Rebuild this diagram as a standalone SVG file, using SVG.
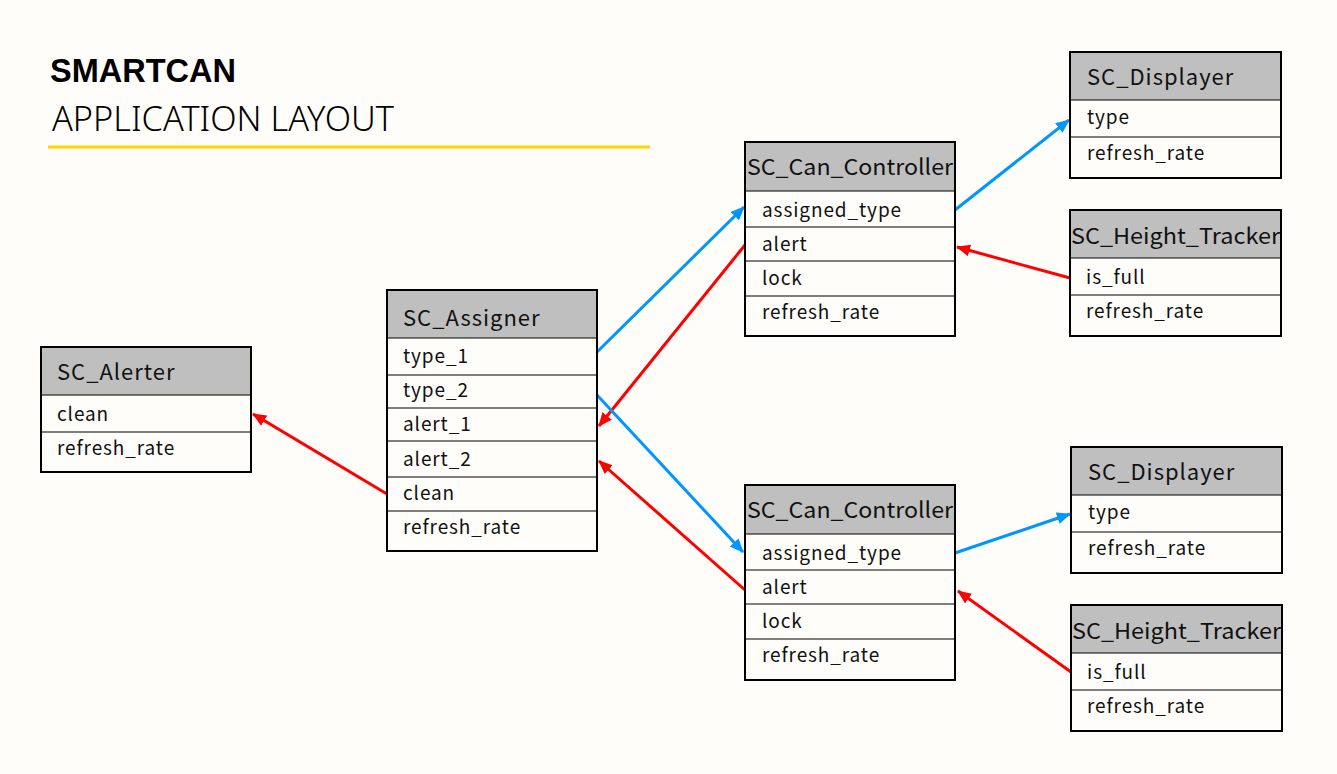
<svg xmlns="http://www.w3.org/2000/svg" width="1337" height="774" viewBox="0 0 1337 774">
<defs>
<style>
.bg{fill:#FEFDF9}
.box{fill:#FEFDF9;stroke:#000;stroke-width:2}
.hd{fill:#BFBFBF}
.sep{stroke:#000;stroke-width:1.2}
.t{font-family:"Noto Sans CJK JP","Noto Sans",sans-serif;font-size:19px;letter-spacing:0.9px;fill:#111}
.h{font-family:"Noto Sans CJK JP","Noto Sans",sans-serif;font-size:22px;letter-spacing:1px;fill:#111}
.blue{stroke:#0096FF;stroke-width:3;fill:none;marker-end:url(#ab)}
.red{stroke:#FF0000;stroke-width:3;fill:none;marker-end:url(#ar)}
</style>
<marker id="ab" viewBox="0 0 14 12" refX="13" refY="6" markerWidth="14" markerHeight="12" markerUnits="userSpaceOnUse" orient="auto"><path d="M0,0 L14,6 L0,12 Z" fill="#0096FF"/></marker>
<marker id="ar" viewBox="0 0 14 12" refX="13" refY="6" markerWidth="14" markerHeight="12" markerUnits="userSpaceOnUse" orient="auto"><path d="M0,0 L14,6 L0,12 Z" fill="#FF0000"/></marker>
</defs>
<rect class="bg" x="0" y="0" width="1337" height="774"/>
<g id="title">
<text x="50" y="82" font-family="Liberation Sans, sans-serif" font-weight="bold" font-size="34" textLength="186" lengthAdjust="spacingAndGlyphs" fill="#000">SMARTCAN</text>
<text x="52" y="131" font-family="Noto Sans, sans-serif" font-weight="300" font-size="35" textLength="342" lengthAdjust="spacingAndGlyphs" fill="#000">APPLICATION LAYOUT</text>
<line x1="48" y1="147" x2="650" y2="147" stroke="#FFD700" stroke-width="3"/>
</g>
<g id="connectors">
<line class="blue" x1="597" y1="352" x2="744" y2="207"/>
<line class="red" x1="745" y1="245" x2="599" y2="426"/>
<line class="blue" x1="597" y1="395" x2="743" y2="552"/>
<line class="red" x1="745" y1="590" x2="599" y2="461"/>
<line class="red" x1="387" y1="494" x2="253" y2="414"/>
<line class="blue" x1="955" y1="210" x2="1069" y2="120"/>
<line class="red" x1="1070" y1="278" x2="957" y2="247"/>
<line class="blue" x1="955" y1="553" x2="1070" y2="514"/>
<line class="red" x1="1071" y1="672" x2="958" y2="591"/>
</g>
<g id="alerter">
<rect class="box" x="41" y="347" width="210" height="125"/>
<rect class="hd" x="42" y="348" width="208" height="47"/>
<line class="sep" x1="41" y1="395" x2="251" y2="395"/>
<line class="sep" x1="41" y1="432" x2="251" y2="432"/>
<text class="h" x="57" y="380">SC_Alerter</text>
<text class="t" x="57" y="421">clean</text>
<text class="t" x="57" y="455">refresh_rate</text>
</g>
<g id="assigner">
<rect class="box" x="387" y="290" width="210" height="261"/>
<rect class="hd" x="388" y="291" width="208" height="47"/>
<line class="sep" x1="387" y1="338" x2="597" y2="338"/>
<line class="sep" x1="387" y1="375" x2="597" y2="375"/>
<line class="sep" x1="387" y1="408" x2="597" y2="408"/>
<line class="sep" x1="387" y1="441" x2="597" y2="441"/>
<line class="sep" x1="387" y1="477" x2="597" y2="477"/>
<line class="sep" x1="387" y1="511" x2="597" y2="511"/>
<text class="h" x="403" y="326">SC_Assigner</text>
<text class="t" x="403" y="363">type_1</text>
<text class="t" x="403" y="397">type_2</text>
<text class="t" x="403" y="431">alert_1</text>
<text class="t" x="403" y="466">alert_2</text>
<text class="t" x="403" y="500">clean</text>
<text class="t" x="403" y="534">refresh_rate</text>
</g>
<g id="controller1">
<rect class="box" x="745" y="142" width="210" height="194"/>
<rect class="hd" x="746" y="143" width="208" height="48"/>
<line class="sep" x1="745" y1="191" x2="955" y2="191"/>
<line class="sep" x1="745" y1="227" x2="955" y2="227"/>
<line class="sep" x1="745" y1="261" x2="955" y2="261"/>
<line class="sep" x1="745" y1="296" x2="955" y2="296"/>
<text class="h" x="747" y="175" style="letter-spacing:0" textLength="206" lengthAdjust="spacingAndGlyphs">SC_Can_Controller</text>
<text class="t" x="762" y="217">assigned_type</text>
<text class="t" x="762" y="251">alert</text>
<text class="t" x="762" y="285">lock</text>
<text class="t" x="762" y="319">refresh_rate</text>
</g>
<g id="controller2">
<rect class="box" x="745" y="485" width="210" height="195"/>
<rect class="hd" x="746" y="486" width="208" height="48"/>
<line class="sep" x1="745" y1="534" x2="955" y2="534"/>
<line class="sep" x1="745" y1="570" x2="955" y2="570"/>
<line class="sep" x1="745" y1="604" x2="955" y2="604"/>
<line class="sep" x1="745" y1="639" x2="955" y2="639"/>
<text class="h" x="747" y="518" style="letter-spacing:0" textLength="206" lengthAdjust="spacingAndGlyphs">SC_Can_Controller</text>
<text class="t" x="762" y="560">assigned_type</text>
<text class="t" x="762" y="594">alert</text>
<text class="t" x="762" y="628">lock</text>
<text class="t" x="762" y="662">refresh_rate</text>
</g>
<g id="displayer1">
<rect class="box" x="1070" y="52" width="211" height="126"/>
<rect class="hd" x="1071" y="53" width="209" height="47"/>
<line class="sep" x1="1070" y1="100" x2="1281" y2="100"/>
<line class="sep" x1="1070" y1="137" x2="1281" y2="137"/>
<text class="h" x="1087" y="85">SC_Displayer</text>
<text class="t" x="1087" y="124">type</text>
<text class="t" x="1087" y="160">refresh_rate</text>
</g>
<g id="tracker1">
<rect class="box" x="1070" y="210" width="211" height="126"/>
<rect class="hd" x="1071" y="211" width="209" height="47"/>
<line class="sep" x1="1070" y1="258" x2="1281" y2="258"/>
<line class="sep" x1="1070" y1="295" x2="1281" y2="295"/>
<text class="h" x="1071" y="244" style="letter-spacing:0" textLength="209" lengthAdjust="spacingAndGlyphs">SC_Height_Tracker</text>
<text class="t" x="1086" y="284">is_full</text>
<text class="t" x="1086" y="318">refresh_rate</text>
</g>
<g id="displayer2">
<rect class="box" x="1071" y="447" width="211" height="126"/>
<rect class="hd" x="1072" y="448" width="209" height="47"/>
<line class="sep" x1="1071" y1="495" x2="1282" y2="495"/>
<line class="sep" x1="1071" y1="532" x2="1282" y2="532"/>
<text class="h" x="1088" y="480">SC_Displayer</text>
<text class="t" x="1088" y="519">type</text>
<text class="t" x="1088" y="555">refresh_rate</text>
</g>
<g id="tracker2">
<rect class="box" x="1071" y="605" width="211" height="126"/>
<rect class="hd" x="1072" y="606" width="209" height="47"/>
<line class="sep" x1="1071" y1="653" x2="1282" y2="653"/>
<line class="sep" x1="1071" y1="690" x2="1282" y2="690"/>
<text class="h" x="1072" y="639" style="letter-spacing:0" textLength="209" lengthAdjust="spacingAndGlyphs">SC_Height_Tracker</text>
<text class="t" x="1087" y="679">is_full</text>
<text class="t" x="1087" y="713">refresh_rate</text>
</g>
</svg>
